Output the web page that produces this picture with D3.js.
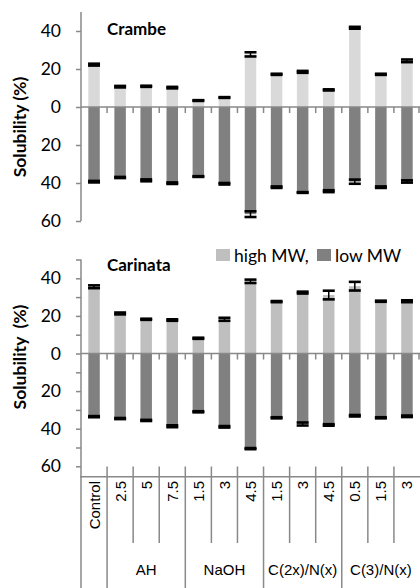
<!DOCTYPE html>
<html>
<head>
<meta charset="utf-8">
<script src="https://cdn.jsdelivr.net/npm/d3@7"></script>
<style>
  body { margin: 0; background: #fff; }
  svg { display: block; }
</style>
</head>
<body>
<div id="chart"></div>
<script>
// categories and their treatment groups
const categories = ['Control', '2.5', '5', '7.5', '1.5', '3', '4.5', '1.5', '3', '4.5', '0.5', '1.5', '3'];
const groupNames = ['', 'AH', 'NaOH', 'C(2x)/N(x)', 'C(3)/N(x)'];
const groupSizes = [1, 3, 3, 3, 3];

// Crambe
const crambeHigh    = [22.3, 10.7, 10.9, 10.2, 3.4, 5.0, 27.7, 17.2, 18.5, 9.0, 41.7, 17.2, 24.3];
const crambeHighErr = [0.5, 0.4, 0.3, 0.4, 0.2, 0.2, 1.1, 0.3, 0.5, 0.3, 0.5, 0.3, 0.7];
const crambeLow     = [39.3, 37.1, 38.6, 40.1, 36.6, 40.4, 56.4, 42.2, 45.0, 44.3, 39.3, 42.2, 39.2];
const crambeLowErr  = [0.4, 0.3, 0.5, 0.4, 0.2, 0.4, 1.5, 0.4, 0.2, 0.5, 1.1, 0.4, 0.6];

// Carinata
const carinataHigh    = [35.5, 21.3, 18.2, 17.8, 8.1, 18.2, 38.4, 27.6, 32.4, 31.1, 35.8, 27.8, 27.8];
const carinataHighErr = [0.75, 0.5, 0.3, 0.4, 0.3, 0.8, 0.9, 0.3, 0.5, 2.3, 2.3, 0.3, 0.5];
const carinataLow     = [33.6, 34.6, 35.6, 38.7, 31.0, 39.0, 50.6, 34.2, 37.5, 38.0, 33.1, 34.2, 33.4];
const carinataLowErr  = [0.3, 0.3, 0.3, 0.5, 0.3, 0.4, 0.3, 0.3, 0.8, 0.4, 0.4, 0.3, 0.4];

const width = 420, height = 588;
const axisColor = '#898989';
const lowColor = '#808080';
const calibri = 'Lato, "Open Sans", sans-serif';
const arial = '"Liberation Sans", Arial, sans-serif';

const svg = d3.select('#chart').append('svg')
  .attr('width', width)
  .attr('height', height);

const x = d3.scaleBand()
  .domain(d3.range(categories.length))
  .range([81, 420])
  .paddingInner(0.56)
  .paddingOuter(0.28);

const step = x.step();
const edge = (i) => x(i) - step * x.paddingInner() / 2; // left boundary of band i

function drawPanel(opt) {
  const y = d3.scaleLinear().domain([50, -60]).range(opt.yRange);
  const g = svg.append('g');

  // bars (high MW up, low MW down)
  g.selectAll('.hi').data(opt.high).enter().append('rect')
    .attr('x', (d, i) => x(i))
    .attr('width', x.bandwidth())
    .attr('y', (d) => y(d))
    .attr('height', (d) => y(0) - y(d))
    .attr('fill', opt.highColor);

  g.selectAll('.lo').data(opt.low).enter().append('rect')
    .attr('x', (d, i) => x(i))
    .attr('width', x.bandwidth())
    .attr('y', y(0))
    .attr('height', (d) => y(-d) - y(0))
    .attr('fill', lowColor);

  // error bars
  const errs = [];
  opt.high.forEach((v, i) => errs.push({ i: i, v: v, e: opt.highErr[i] }));
  opt.low.forEach((v, i) => errs.push({ i: i, v: -v, e: opt.lowErr[i] }));
  const eg = g.selectAll('.err').data(errs).enter().append('g');
  const cx = (d) => x(d.i) + x.bandwidth() / 2;
  eg.append('line')
    .attr('x1', cx).attr('x2', cx)
    .attr('y1', (d) => y(d.v + d.e)).attr('y2', (d) => y(d.v - d.e))
    .attr('stroke', '#000').attr('stroke-width', 1.5);
  [1, -1].forEach((s) => {
    eg.append('line')
      .attr('x1', (d) => cx(d) - 6).attr('x2', (d) => cx(d) + 6)
      .attr('y1', (d) => y(d.v + s * d.e)).attr('y2', (d) => y(d.v + s * d.e))
      .attr('stroke', '#000').attr('stroke-width', 2.6);
  });

  // y axis
  const yAxis = g.append('g')
    .attr('transform', 'translate(81,0)')
    .call(d3.axisLeft(y).tickValues(opt.ticks).tickSize(5).tickPadding(15)
      .tickFormat((d) => (d % 20 === 0 ? Math.abs(d) : '')));
  yAxis.select('.domain').attr('stroke', axisColor).attr('stroke-width', 1.5)
    .attr('d', 'M0,' + opt.yRange[0] + 'V' + opt.axisBottom);
  yAxis.selectAll('.tick line').attr('stroke', axisColor).attr('stroke-width', 1.5);
  yAxis.selectAll('.tick text')
    .style('font-family', calibri).style('font-size', '17.5px').attr('fill', '#000');

  // zero line with ticks at band boundaries
  g.append('line')
    .attr('x1', 81).attr('x2', 420).attr('y1', y(0)).attr('y2', y(0))
    .attr('stroke', axisColor).attr('stroke-width', 1.5);
  g.selectAll('.ztick').data(d3.range(1, categories.length + 1)).enter().append('line')
    .attr('x1', (i) => (i < categories.length ? edge(i) : 419))
    .attr('x2', (i) => (i < categories.length ? edge(i) : 419))
    .attr('y1', y(0)).attr('y2', y(0) + 6)
    .attr('stroke', axisColor).attr('stroke-width', 1.5);

  // panel title
  g.append('text')
    .attr('x', 107).attr('y', opt.titleY)
    .style('font-family', calibri).style('font-size', '17px').style('font-weight', 'bold')
    .text(opt.title);

  // axis title
  g.append('text')
    .attr('transform', 'translate(26,' + opt.labelY + ') rotate(-90)')
    .attr('text-anchor', 'middle')
    .style('font-family', calibri).style('font-size', '17.5px').style('font-weight', 'bold')
    .style('white-space', 'pre')
    .text(opt.label);

  return y;
}

drawPanel({
  yRange: [12, 221], axisBottom: 221,
  ticks: [40, 20, 0, -20, -40, -60],
  high: crambeHigh, highErr: crambeHighErr, low: crambeLow, lowErr: crambeLowErr,
  highColor: '#d9d9d9',
  title: 'Crambe', titleY: 35,
  label: 'Solubility (%)', labelY: 127
});

drawPanel({
  yRange: [259.5, 466.3], axisBottom: 588,
  ticks: d3.range(50, -61, -10),
  high: carinataHigh, highErr: carinataHighErr, low: carinataLow, lowErr: carinataLowErr,
  highColor: '#bfbfbf',
  title: 'Carinata', titleY: 271,
  label: 'Solubility  (%)', labelY: 357
});

// multi-level category axis under the lower panel
const axisY = 476.7;
const cat = svg.append('g');
cat.append('line')
  .attr('x1', 80).attr('x2', 420).attr('y1', axisY).attr('y2', axisY)
  .attr('stroke', axisColor).attr('stroke-width', 1.5);

const groupStarts = [];
groupSizes.reduce((acc, n) => { groupStarts.push(acc); return acc + n; }, 0);

cat.selectAll('.sep').data(d3.range(1, categories.length)).enter().append('line')
  .attr('x1', (i) => edge(i)).attr('x2', (i) => edge(i))
  .attr('y1', 466.5)
  .attr('y2', (i) => (groupStarts.includes(i) ? 588 : 543))
  .attr('stroke', axisColor).attr('stroke-width', 1.5);

cat.selectAll('.cl').data(categories).enter().append('text')
  .attr('transform', (d, i) => 'translate(' + (x(i) + x.bandwidth() / 2 + 5.5) + ',481) rotate(-90)')
  .attr('text-anchor', 'end')
  .style('font-family', arial).style('font-size', '15px')
  .text((d) => d);

cat.selectAll('.gl').data(groupNames).enter().append('text')
  .attr('x', (d, i) => {
    const a = edge(groupStarts[i]);
    const b = groupStarts[i] + groupSizes[i] < categories.length ? edge(groupStarts[i] + groupSizes[i]) : 420;
    return (a + b) / 2;
  })
  .attr('y', 575)
  .attr('text-anchor', 'middle')
  .style('font-family', arial).style('font-size', '15px')
  .text((d) => d);

// legend
const legendItems = [{ name: 'high MW,', color: '#bfbfbf', x: 216 }, { name: 'low MW', color: lowColor, x: 317 }];
const lg = svg.selectAll('.legend').data(legendItems).enter().append('g')
  .attr('transform', (d) => 'translate(' + d.x + ',249)');
lg.append('rect').attr('width', 14).attr('height', 12).attr('fill', (d) => d.color);
lg.append('text')
  .attr('x', 18).attr('y', 13)
  .style('font-family', calibri).style('font-size', '17.5px')
  .text((d) => d.name);
</script>
</body>
</html>
